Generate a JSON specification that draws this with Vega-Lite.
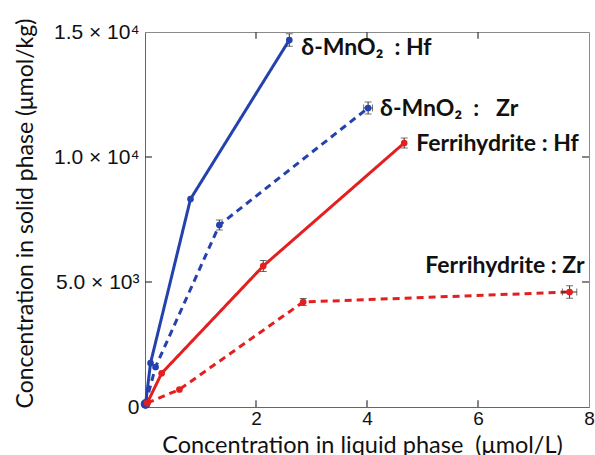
{
  "$schema": "https://vega.github.io/schema/vega-lite/v6.json",
  "width": 444,
  "height": 375,
  "autosize": "none",
  "padding": {"left": 145, "top": 32, "right": 6, "bottom": 48},
  "background": "white",
  "config": {"view": {"stroke": "#8a8a8a", "strokeWidth": 1}},
  "datasets": {
    "pts": [
      {"series": "MnO2-Hf", "x": 0.01, "y": 120},
      {"series": "MnO2-Hf", "x": 0.1, "y": 1760},
      {"series": "MnO2-Hf", "x": 0.82, "y": 8320},
      {"series": "MnO2-Hf", "x": 2.6, "y": 14680, "ylo": 14430, "yhi": 14930, "label": "δ-MnO₂\u00a0\u00a0: Hf"},
      {"series": "MnO2-Zr", "x": 0.01, "y": 120},
      {"series": "MnO2-Zr", "x": 0.19, "y": 1600},
      {"series": "MnO2-Zr", "x": 1.34, "y": 7280, "ylo": 7080, "yhi": 7480},
      {"series": "MnO2-Zr", "x": 4.02, "y": 11960, "ylo": 11720, "yhi": 12200, "xlo": 3.94, "xhi": 4.1, "label": "δ-MnO₂\u00a0\u00a0:\u00a0\u00a0 Zr"},
      {"series": "FH-Hf", "x": 0.04, "y": 160},
      {"series": "FH-Hf", "x": 0.3, "y": 1350},
      {"series": "FH-Hf", "x": 2.13, "y": 5640, "ylo": 5420, "yhi": 5860},
      {"series": "FH-Hf", "x": 4.67, "y": 10560, "ylo": 10360, "yhi": 10760, "label": "Ferrihydrite : Hf"},
      {"series": "FH-Zr", "x": 0.04, "y": 160},
      {"series": "FH-Zr", "x": 0.62, "y": 700},
      {"series": "FH-Zr", "x": 2.85, "y": 4200, "ylo": 4060, "yhi": 4340},
      {"series": "FH-Zr", "x": 7.65, "y": 4600, "ylo": 4350, "yhi": 4850, "xlo": 7.52, "xhi": 7.78, "label": "Ferrihydrite : Zr"}
    ],
    "xticks": [{"v": 2}, {"v": 4}, {"v": 6}],
    "yticks": [{"v": 5000}, {"v": 10000}]
  },
  "data": {"name": "pts"},
  "resolve": {"axis": {"x": "independent", "y": "independent"}},
  "layer": [
    {
      "mark": {"type": "line", "strokeWidth": 3},
      "encoding": {
        "x": {
          "field": "x", "type": "quantitative",
          "scale": {"domain": [0, 8], "nice": false, "zero": false},
          "axis": {
            "orient": "bottom", "values": [2, 4, 6, 8], "format": "d", "ticks": false, "grid": false,
            "domainColor": "#666",
            "labelFont": "Liberation Sans", "labelFontSize": 19, "labelColor": "#111",
            "labelPadding": 2, "labelFlush": false,
            "title": "Concentration in liquid phase\u00a0\u00a0(μmol/L)",
            "titleFont": "Lato", "titleFontSize": 23.5, "titleFontWeight": "normal", "titleColor": "#111",
            "titleX": 217, "titleY": 45, "titleBaseline": "alphabetic", "titleAnchor": null
          }
        },
        "y": {
          "field": "y", "type": "quantitative",
          "scale": {"domain": [0, 15000], "nice": false},
          "axis": {
            "orient": "left", "values": [0, 5000, 10000, 15000], "ticks": false, "grid": false,
            "domainColor": "#666",
            "labelFont": "Liberation Sans", "labelFontSize": 21, "labelColor": "#111",
            "labelPadding": 6,
            "labelExpr": "datum.value == 0 ? '0' : datum.value == 5000 ? '5.0 × 10³' : datum.value == 10000 ? '1.0 × 10⁴' : '1.5 × 10⁴'",
            "title": "Concentration in solid phase (μmol/kg)",
            "titleFont": "Lato", "titleFontSize": 23, "titleFontWeight": "normal", "titleColor": "#111",
            "titleX": -108, "titleY": 181, "titleAnchor": null
          }
        },
        "color": {
          "field": "series", "type": "nominal", "legend": null,
          "scale": {"domain": ["MnO2-Hf", "MnO2-Zr", "FH-Hf", "FH-Zr"], "range": ["#2441ad", "#2441ad", "#e3201f", "#e3201f"]}
        },
        "strokeDash": {
          "field": "series", "type": "nominal", "legend": null,
          "scale": {"domain": ["MnO2-Hf", "MnO2-Zr", "FH-Hf", "FH-Zr"], "range": [[1, 0], [7, 5], [1, 0], [7, 5]]}
        },
        "order": {"field": "x", "type": "quantitative"}
      }
    },
    {
      "data": {"name": "xticks"},
      "mark": {"type": "rule", "color": "#444", "strokeWidth": 1.3},
      "encoding": {
        "x": {"field": "v", "type": "quantitative", "axis": null},
        "y": {"datum": 0, "type": "quantitative", "axis": null},
        "y2": {"datum": 270}
      }
    },
    {
      "data": {"name": "xticks"},
      "mark": {"type": "rule", "color": "#444", "strokeWidth": 1.3},
      "encoding": {
        "x": {"field": "v", "type": "quantitative", "axis": null},
        "y": {"datum": 15000, "type": "quantitative", "axis": null},
        "y2": {"datum": 14730}
      }
    },
    {
      "data": {"name": "yticks"},
      "mark": {"type": "rule", "color": "#444", "strokeWidth": 1.3},
      "encoding": {
        "y": {"field": "v", "type": "quantitative", "axis": null},
        "x": {"datum": 0, "type": "quantitative", "axis": null},
        "x2": {"datum": 0.125}
      }
    },
    {
      "data": {"name": "yticks"},
      "mark": {"type": "rule", "color": "#444", "strokeWidth": 1.3},
      "encoding": {
        "y": {"field": "v", "type": "quantitative", "axis": null},
        "x": {"datum": 8, "type": "quantitative", "axis": null},
        "x2": {"datum": 7.875}
      }
    },
    {
      "transform": [{"filter": "isValid(datum.ylo)"}],
      "mark": {"type": "errorbar", "ticks": {"size": 7, "color": "#333"}, "rule": {"color": "#333", "strokeWidth": 1}},
      "encoding": {
        "x": {"field": "x", "type": "quantitative", "axis": null},
        "y": {"field": "ylo", "type": "quantitative", "axis": null},
        "y2": {"field": "yhi"}
      }
    },
    {
      "transform": [{"filter": "isValid(datum.xlo)"}],
      "mark": {"type": "errorbar", "ticks": {"size": 7, "color": "#333"}, "rule": {"color": "#333", "strokeWidth": 1}},
      "encoding": {
        "y": {"field": "y", "type": "quantitative", "axis": null},
        "x": {"field": "xlo", "type": "quantitative", "axis": null},
        "x2": {"field": "xhi"}
      }
    },
    {
      "mark": {"type": "point", "filled": true, "opacity": 1},
      "encoding": {
        "x": {"field": "x", "type": "quantitative", "axis": null},
        "y": {"field": "y", "type": "quantitative", "axis": null},
        "color": {"field": "series", "type": "nominal", "legend": null},
        "size": {"condition": {"test": "datum.x < 0.02", "value": 90}, "value": 45}
      }
    },
    {
      "transform": [{"filter": "datum.series == 'MnO2-Hf' && isValid(datum.label)"}],
      "mark": {"type": "text", "align": "left", "baseline": "middle", "dx": 12, "dy": 8, "font": "Lato", "fontWeight": "bold", "fontSize": 23, "color": "#111"},
      "encoding": {
        "x": {"field": "x", "type": "quantitative", "axis": null},
        "y": {"field": "y", "type": "quantitative", "axis": null},
        "text": {"field": "label"}
      }
    },
    {
      "transform": [{"filter": "(datum.series == 'MnO2-Zr' || datum.series == 'FH-Hf') && isValid(datum.label)"}],
      "mark": {"type": "text", "align": "left", "baseline": "middle", "dx": 12, "dy": 1, "font": "Lato", "fontWeight": "bold", "fontSize": 23, "color": "#111"},
      "encoding": {
        "x": {"field": "x", "type": "quantitative", "axis": null},
        "y": {"field": "y", "type": "quantitative", "axis": null},
        "text": {"field": "label"}
      }
    },
    {
      "transform": [{"filter": "datum.series == 'FH-Zr' && isValid(datum.label)"}],
      "mark": {"type": "text", "align": "right", "baseline": "middle", "dx": 15, "dy": -26, "font": "Lato", "fontWeight": "bold", "fontSize": 23, "color": "#111"},
      "encoding": {
        "x": {"field": "x", "type": "quantitative", "axis": null},
        "y": {"field": "y", "type": "quantitative", "axis": null},
        "text": {"field": "label"}
      }
    }
  ]
}
